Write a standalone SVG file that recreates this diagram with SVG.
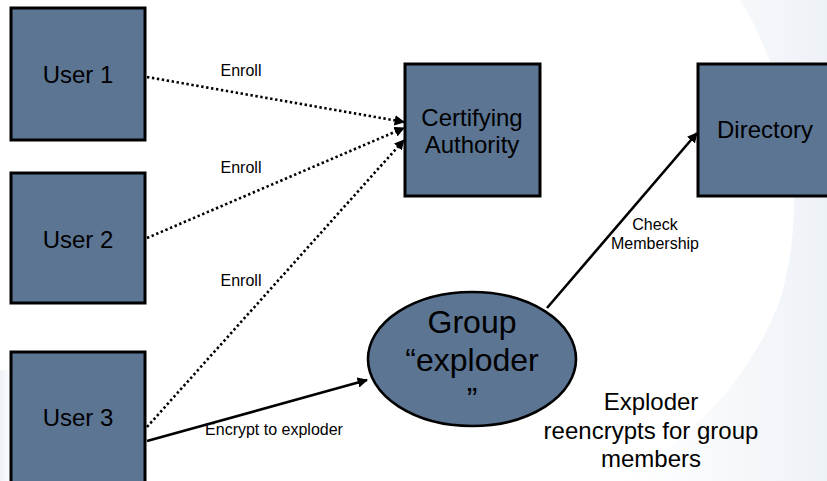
<svg xmlns="http://www.w3.org/2000/svg" width="827" height="481" viewBox="0 0 827 481">
<defs>
<style>
.box{fill:#5b7593;stroke:#000;stroke-width:3}
.lbl{font-family:"Liberation Sans",Arial,sans-serif;fill:#000;text-anchor:middle}
.big{font-size:24px}
.sm{font-size:16px}
.grp{font-size:32px}
.dot{fill:none;stroke:#000;stroke-width:2.6;stroke-dasharray:2.4 2.6}
.sol{fill:none;stroke:#000;stroke-width:2.6}
</style>
<marker id="ah" viewBox="0 0 10 10" refX="9" refY="5" markerWidth="4" markerHeight="4" orient="auto" markerUnits="strokeWidth">
<path d="M0,0 L10,5 L0,10 z" fill="#000"/>
</marker>
<linearGradient id="bgR" x1="0" y1="0" x2="1" y2="0">
<stop offset="0" stop-color="#e6edf4" stop-opacity="0"/>
<stop offset="1" stop-color="#e2e9f1" stop-opacity="0.6"/>
</linearGradient>
<linearGradient id="bgL" x1="0" y1="0" x2="1" y2="0">
<stop offset="0" stop-color="#e2e9f1" stop-opacity="0.6"/>
<stop offset="1" stop-color="#e6edf4" stop-opacity="0"/>
</linearGradient>
</defs>
<rect width="827" height="481" fill="#fff"/>
<g id="background">
<path d="M740,0 C790,80 810,200 780,300 C750,380 690,440 620,481 L827,481 L827,0 Z" fill="url(#bgR)"/>
<path d="M0,370 L14,370 L14,481 L0,481 Z" fill="url(#bgL)"/>
</g>
<g id="connectors">
<line class="dot" x1="147" y1="77" x2="404" y2="122" marker-end="url(#ah)"/>
<line class="dot" x1="147" y1="238" x2="404" y2="128" marker-end="url(#ah)"/>
<line class="dot" x1="147" y1="427" x2="404" y2="140" marker-end="url(#ah)"/>
<line class="sol" x1="147" y1="441" x2="367" y2="380" marker-end="url(#ah)"/>
<line class="sol" x1="547" y1="308" x2="697" y2="133" marker-end="url(#ah)"/>
<text class="lbl sm" x="241" y="76">Enroll</text>
<text class="lbl sm" x="241" y="173">Enroll</text>
<text class="lbl sm" x="241" y="286">Enroll</text>
<text class="lbl sm" x="274" y="435">Encrypt to exploder</text>
<text class="lbl sm" x="655" y="230">Check</text>
<text class="lbl sm" x="655" y="249">Membership</text>
</g>
<g id="user1">
<rect class="box" x="11" y="8" width="134" height="132"/>
<text class="lbl big" x="78" y="83">User 1</text>
</g>
<g id="user2">
<rect class="box" x="11" y="173" width="134" height="130"/>
<text class="lbl big" x="78" y="248">User 2</text>
</g>
<g id="user3">
<rect class="box" x="11" y="352" width="134" height="140"/>
<text class="lbl big" x="78" y="426">User 3</text>
</g>
<g id="ca">
<rect class="box" x="405" y="64" width="135" height="132"/>
<text class="lbl big" x="472" y="126">Certifying</text>
<text class="lbl big" x="472" y="153">Authority</text>
</g>
<g id="directory">
<rect class="box" x="698" y="64" width="136" height="132"/>
<text class="lbl big" x="765" y="138">Directory</text>
</g>
<g id="exploder">
<ellipse class="box" cx="472" cy="359" rx="104" ry="67" style="stroke-width:2.6"/>
<text class="lbl grp" x="472" y="333">Group</text>
<text class="lbl grp" x="472" y="371">“exploder</text>
<text class="lbl grp" x="472" y="410">”</text>
</g>
<g id="note">
<text class="lbl big" x="651" y="410">Exploder</text>
<text class="lbl big" x="651" y="439">reencrypts for group</text>
<text class="lbl big" x="651" y="467">members</text>
</g>
</svg>
